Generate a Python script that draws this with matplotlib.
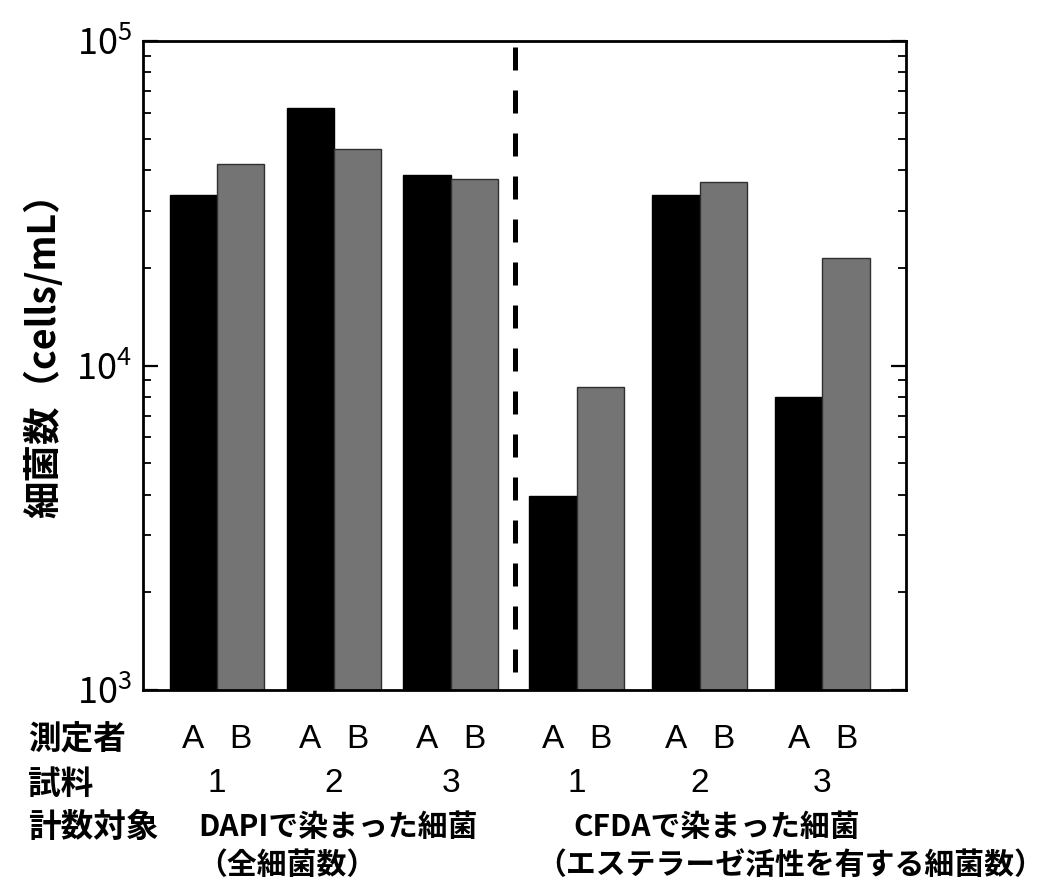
import numpy as np
import matplotlib.pyplot as plt
from matplotlib.ticker import LogLocator, NullFormatter
from matplotlib.transforms import blended_transform_factory

plt.rcParams['font.family'] = ['Noto Sans CJK JP', 'DejaVu Sans']
plt.rcParams['mathtext.fontset'] = 'custom'
plt.rcParams['mathtext.rm'] = 'Liberation Sans'

# data (cells/mL)
persons = ['A', 'B']
samples = ['1', '2', '3', '1', '2', '3']
count_a = [33500, 62300, 38600, 3960, 33500, 8000]
count_b = [41700, 46400, 37500, 8600, 36700, 21500]
ytick_labels = [r'$\mathregular{10^3}$', r'$\mathregular{10^4}$', r'$\mathregular{10^5}$']

W, H = 1058, 881
fig = plt.figure(figsize=(W / 100, H / 100), dpi=100)
ax = fig.add_axes([143 / W, 1 - 690 / H, (906 - 143) / W, (690 - 41) / H])

# group centres (slightly wider gap across the dashed divider)
centers = np.r_[np.arange(3) * 0.965, 2.97 + np.arange(3) * 1.015]
w = 0.39
ax.bar(centers - w / 2, count_a, width=w, color='black', edgecolor='black', linewidth=1, zorder=2)
ax.bar(centers + w / 2, count_b, width=w, color='#747474', edgecolor='#303030', linewidth=1, zorder=2)

ax.set_yscale('log')
ax.set_ylim(1e3, 1e5)
ax.set_xlim(-0.61, 5.69)

ax.axvline(2.46, ymin=0.028, ymax=1, color='black', lw=3.6, dashes=(4.6, 4.0), zorder=3)

for s in ax.spines.values():
    s.set_linewidth(2)
ax.set_xticks([])
ax.set_yticks([1e3, 1e4, 1e5])
ax.set_yticklabels(ytick_labels)
ax.yaxis.set_minor_locator(LogLocator(base=10, subs=np.arange(2, 10), numticks=20))
ax.yaxis.set_minor_formatter(NullFormatter())
ax.tick_params(axis='y', which='major', direction='in', length=11, width=1.6,
               right=True, labelsize=26, pad=8)
ax.tick_params(axis='y', which='minor', direction='in', length=6, width=1.3, right=True)

ax.set_ylabel('細菌数（cells/mL）', fontsize=27, fontweight='bold')
ax.yaxis.set_label_coords(-0.104, 0.53)

# category rows under the plot
tr = blended_transform_factory(ax.transData, fig.transFigure)
row_y = [740, 784, 827, 865]
fy = lambda py: 1 - py / H
fs = 21.5
lfs = 23.5
fig.text(28 / W, fy(row_y[0]), '測定者', fontsize=lfs, fontweight='bold', va='center')
fig.text(28 / W, fy(row_y[1]), '試料', fontsize=lfs, fontweight='bold', va='center')
fig.text(28 / W, fy(row_y[2]), '計数対象', fontsize=lfs, fontweight='bold', va='center')
for c, s in zip(centers, samples):
    ax.text(c - w / 2, fy(row_y[0]), persons[0], transform=tr, ha='center', va='center',
            fontsize=24, family='Liberation Sans')
    ax.text(c + w / 2, fy(row_y[0]), persons[1], transform=tr, ha='center', va='center',
            fontsize=24, family='Liberation Sans')
    ax.text(c, fy(row_y[1]), s, transform=tr, ha='center', va='center',
            fontsize=24, family='Liberation Sans')
fig.text(198 / W, fy(row_y[2]), 'DAPIで染まった細菌', fontsize=fs, fontweight='bold', va='center')
fig.text(197 / W, fy(row_y[3]), '（全細菌数）', fontsize=fs, fontweight='bold', va='center')
fig.text(573 / W, fy(row_y[2]), 'CFDAで染まった細菌', fontsize=fs, fontweight='bold', va='center')
fig.text(536 / W, fy(row_y[3]), '（エステラーゼ活性を有する細菌数）', fontsize=fs, fontweight='bold', va='center')

fig.savefig('out.png', dpi=100)
